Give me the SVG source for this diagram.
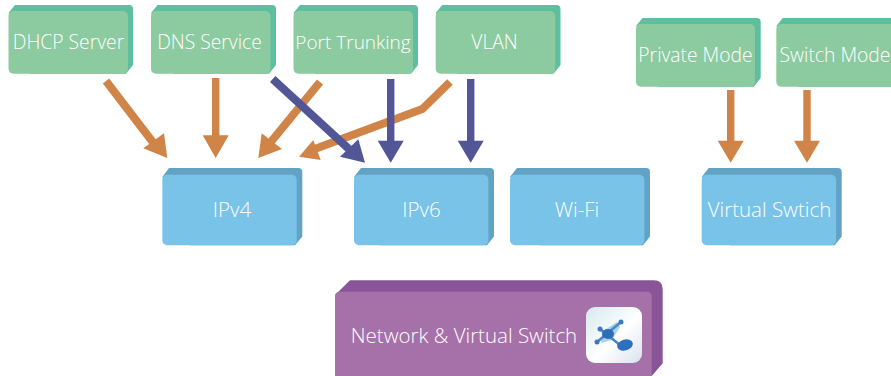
<svg xmlns="http://www.w3.org/2000/svg" width="891" height="376" viewBox="0 0 891 376">
<style>
text{font-family:"Open Sans","Noto Sans","Liberation Sans",sans-serif;fill:#fff;text-anchor:middle;font-weight:300}
.tg{font-size:19.300px}
.tb{font-size:20.500px}
.gb{fill:#5dbf9f}.gf{fill:#8ccaa0}
.bb{fill:#62a3c4}.bf{fill:#79c3e8}
.pb{fill:#8a5598}.pf{fill:#a671a8}
.o{fill:#d08448}.n{fill:#535696}
.os{fill:none;stroke:#d08448;stroke-width:8}
.ns{fill:none;stroke:#535696;stroke-width:8}
</style>
<defs>
<linearGradient id="ic" x1="0" y1="0" x2="1" y2="1"><stop offset="0" stop-color="#d4eaf1"/><stop offset=".55" stop-color="#fff"/><stop offset="1" stop-color="#d9e2ee"/></linearGradient>
</defs>
<g id="connectors">
<path class="os" d="M106 81L155 145"/><path class="o" d="M167.300 158L143.300 148.300L164 133.300Z"/>
<path class="o" d="M212 78H219.400V135.300H228.700L215.700 158L202.700 135.300H212Z"/>
<path class="os" d="M320 82L270 143"/><path class="o" d="M258.300 158L261.700 133.300L282 149Z"/>
<path class="os" d="M450 82L422.300 109L312 150"/><path class="o" d="M299 156.700L313.300 140L320.700 160Z"/>
<path class="o" d="M727 90H734.400V140.700H743.700L730.700 162.700L717.700 140.700H727Z"/>
<path class="o" d="M803.300 90H810.700V140.700H820L807 162.700L794 140.700H803.300Z"/>
<path class="ns" d="M272.700 79L350 150"/><path class="n" d="M365 162.700L340 156.700L358.300 139.300Z"/>
<path class="n" d="M387 79H394.400V140.700H403.700L390.700 162.700L377.700 140.700H387Z"/>
<path class="n" d="M467 79H474.400V140.700H483.700L470.700 162.700L457.700 140.700H467Z"/>
</g>
<g id="dhcp"><path class="gb" d="M15 5H129Q133 5 133 9V65L126 73.700H30V30L8.500 13Z"/><rect class="gf" x="8.500" y="11" width="119.500" height="62.700" rx="5"/><text class="tg" x="68.500" y="49">DHCP Server</text></g>
<g id="dns"><path class="gb" d="M157.500 5H272Q276 5 276 9V65L269 73.700H173V30L151 13Z"/><rect class="gf" x="151" y="11" width="119.500" height="62.700" rx="5"/><text class="tg" x="209.500" y="49">DNS Service</text></g>
<g id="port"><path class="gb" d="M300 5H414Q418 5 418 9V65L411 73.700H315V30L293.500 13Z"/><rect class="gf" x="293.500" y="11" width="119.500" height="62.700" rx="5"/><text class="tg" x="353" y="49" style="font-size:19px">Port Trunking</text></g>
<g id="vlan"><path class="gb" d="M442.200 5H556.500Q560.500 5 560.500 9V65L553.500 73.700H457V30L435.700 13Z"/><rect class="gf" x="435.700" y="11" width="119.500" height="62.700" rx="5"/><text class="tg" x="494.500" y="49">VLAN</text></g>
<g id="private"><path class="gb" d="M642.500 18H756.700Q760.700 18 760.700 22V78L753.700 86.700H658V43L636 26Z"/><rect class="gf" x="636" y="24" width="119" height="62.700" rx="5"/><text class="tg" x="695.500" y="61.500">Private Mode</text></g>
<g id="switch"><path class="gb" d="M782.800 18H897Q901 18 901 22V78L894 86.700H798V43L776.300 26Z"/><rect class="gf" x="776.300" y="24" width="119" height="62.700" rx="5"/><text class="tg" x="835" y="61.500">Switch Mode</text></g>
<g id="ipv4"><path class="bb" d="M169 168H298.300Q302.300 168 302.300 172V236.500L295 245.300H190V200L162.300 177Z"/><rect class="bf" x="162.300" y="174.700" width="134.400" height="70.600" rx="5"/><text class="tb" x="232" y="217">IPv4</text></g>
<g id="ipv6"><path class="bb" d="M361 168H490Q494 168 494 172V236.500L487 245.300H380V200L354 177Z"/><rect class="bf" x="354" y="174.700" width="134.400" height="70.600" rx="5"/><text class="tb" x="421.500" y="217">IPv6</text></g>
<g id="wifi"><path class="bb" d="M517 168H646Q650 168 650 172V236.500L643 245.300H540V200L510 177Z"/><rect class="bf" x="510" y="174.700" width="134.400" height="70.600" rx="5"/><text class="tb" x="577" y="217">Wi-Fi</text></g>
<g id="vswitch"><path class="bb" d="M708.700 168H837.700Q841.700 168 841.700 172V236.500L834.700 245.300H730V200L701.700 177Z"/><rect class="bf" x="701.700" y="174.700" width="134.400" height="70.600" rx="5"/><text class="tb" x="769.500" y="217">Virtual Swtich</text></g>
<g id="network">
<path class="pb" d="M350 280.300H653.700Q662.700 280.300 662.700 289.300V363.300L651.700 376H360V320L335 295Z"/>
<path class="pf" d="M340 291.700H646.700Q651.700 291.700 651.700 296.700V376H335V296.700Q335 291.700 340 291.700Z"/>
<text class="tb" x="464" y="343">Network &amp; Virtual Switch</text>
<rect x="586" y="307" width="56" height="56" rx="9" fill="url(#ic)"/>
<path d="M603 331L617 322L620 327L612 340L601 343Z" fill="#a8d2e8"/>
<path d="M597 342L621 322M600 329L625 349" stroke="#4a86c8" stroke-width="2.600" fill="none"/>
<ellipse cx="608" cy="334" rx="6" ry="5" fill="#2f6cb6"/>
<ellipse cx="625" cy="345" rx="8" ry="5.500" fill="#2f6fbd" transform="rotate(-15 625 345)"/>
<circle cx="600" cy="329" r="2.500" fill="#3a78c0"/><circle cx="597" cy="342" r="2.500" fill="#3a78c0"/><circle cx="621" cy="322" r="2.500" fill="#3a78c0"/>
</g>
</svg>
